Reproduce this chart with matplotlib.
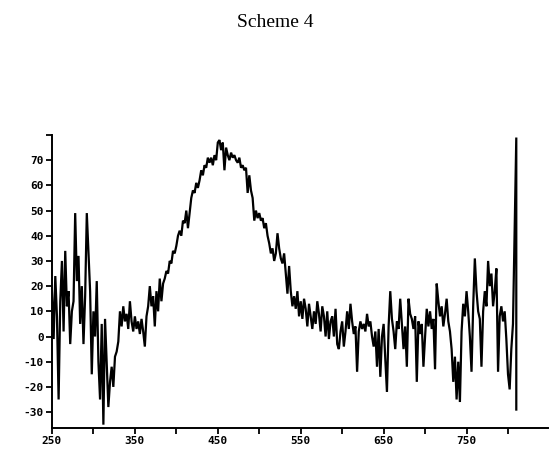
import numpy as np
import matplotlib
matplotlib.use("Agg")
import matplotlib.pyplot as plt

# wavelength grid (nm) read every 2 units, plus the closing spike at 810
wavelength = list(range(250, 811, 2)) + [810]

signal = [
    # 250 - 298
    18, -1, 24, 8, -25, 14, 30, 2, 34, 12, 18, -3, 10, 14, 49, 22, 32, 5, 20, -3,
    16, 49, 33, 18, -15,
    # 300 - 348
    10, 0, 22, -10, -25, 5, -35, 7, -10, -28, -18, -12, -20, -8, -6, -2, 10, 4, 12, 6,
    9, 3, 14, 6, 2,
    # 350 - 398
    8, 3, 6, 1, 7, 2, -4, 8, 12, 20, 12, 16, 4, 18, 10, 23, 14, 21, 23, 26,
    25, 30, 29, 34, 33,
    # 400 - 448
    36, 40, 42, 40, 46, 45, 50, 43, 49, 55, 58, 57, 61, 59, 62, 66, 64, 68, 67, 71,
    69, 71, 68, 72, 70,
    # 450 - 498
    77, 78, 74, 77, 66, 75, 72, 70, 73, 71, 72, 70, 69, 71, 67, 68, 66, 67, 57, 64,
    58, 55, 46, 50, 47,
    # 500 - 548
    49, 46, 47, 43, 45, 40, 37, 33, 35, 30, 33, 41, 35, 31, 29, 33, 25, 17, 28, 18,
    12, 16, 11, 18, 8,
    # 550 - 598
    14, 7, 15, 11, 4, 13, 8, 3, 10, 5, 14, 9, 2, 12, 8, 0, 10, -1, 6, 8,
    0, 11, -3, -5, 2,
    # 600 - 648
    6, -4, 2, 10, 3, 13, 6, 1, 4, -14, 2, 6, 3, 5, 2, 9, 4, 6, 0, -4,
    2, -12, 3, -16, 0,
    # 650 - 698
    5, -9, -22, 4, 18, 7, 2, -5, 6, 3, 15, 5, -5, 4, -12, 15, 9, 7, 3, 8,
    -18, 6, 1, 5, -12,
    # 700 - 748
    0, 11, 4, 10, 3, 7, -13, 21, 14, 8, 12, 4, 9, 15, 6, 2, -5, -18, -8, -25,
    -10, -26, 2, 13, 8,
    # 750 - 798
    18, 10, 0, -14, 12, 31, 18, 10, 7, -12, 10, 18, 12, 30, 20, 25, 12, 18, 27, -14,
    8, 12, 6, 10, -1,
    # 800 - 810, spike
    -15, -21, -5, 5, 41, 79,
    -29,
]

x_ticks = list(range(250, 801, 50))
x_labels = [str(t) if (t - 250) % 100 == 0 else "" for t in x_ticks]
y_ticks = list(range(-30, 81, 10))
y_labels = [str(t) if t < 80 else "" for t in y_ticks]

fig = plt.figure(figsize=(5.5, 4.5), dpi=100)
fig.text(0.5, 0.95, "Scheme 4", ha="center", va="center",
         family="Liberation Serif", fontsize=14)

ax = fig.add_axes([0.0945, 0.049, 0.9015, 0.651])
ax.plot(wavelength, signal, color="black", lw=1.6, solid_joinstyle="miter")

ax.set_xlim(250, 848)
ax.set_ylim(-36.3, 80)
for side in ["top", "right"]:
    ax.spines[side].set_visible(False)
for side in ["left", "bottom"]:
    ax.spines[side].set_linewidth(1.4)

ax.set_xticks(x_ticks)
ax.set_xticklabels(x_labels)
ax.set_yticks(y_ticks)
ax.set_yticklabels(y_labels)
ax.tick_params(direction="out", length=4, width=1.3, pad=2)
for lab in ax.get_xticklabels() + ax.get_yticklabels():
    lab.set_family("DejaVu Sans Mono")
    lab.set_fontweight("bold")
    lab.set_fontsize(8)

fig.savefig("out.png", dpi=100)
